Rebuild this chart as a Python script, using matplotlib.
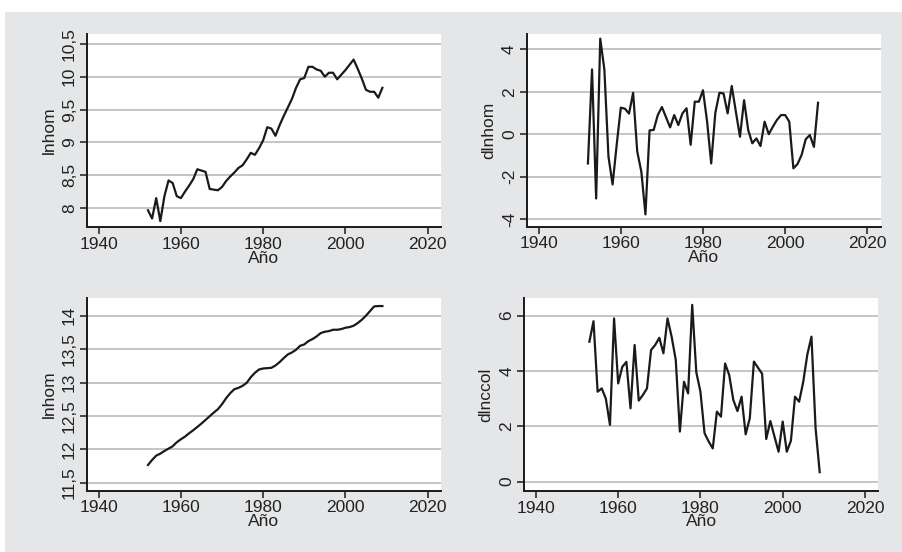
import matplotlib
matplotlib.use("Agg")
import matplotlib.pyplot as plt
from matplotlib.patches import Rectangle

plt.rcParams['font.family'] = ['Liberation Sans Narrow', 'Liberation Sans', 'DejaVu Sans']

# series 1952-2009
years_a = list(range(1952, 2010))
lnhom = [7.965, 7.84, 8.15, 7.80, 8.18, 8.42, 8.38, 8.18, 8.15, 8.25,
         8.34, 8.44, 8.59, 8.57, 8.55, 8.29, 8.28, 8.27, 8.32, 8.41,
         8.48, 8.54, 8.61, 8.65, 8.74, 8.84, 8.81, 8.91, 9.03, 9.23,
         9.21, 9.10, 9.26, 9.40, 9.53, 9.66, 9.83, 9.96, 9.98, 10.15,
         10.15, 10.11, 10.09, 10.00, 10.06, 10.06, 9.96, 10.03, 10.10, 10.18,
         10.26, 10.12, 9.97, 9.80, 9.77, 9.77, 9.68, 9.83]
lnhom2 = [11.765, 11.84, 11.905, 11.935, 11.975, 12.01, 12.045, 12.105, 12.15, 12.19,
          12.24, 12.285, 12.335, 12.385, 12.44, 12.495, 12.55, 12.60, 12.675, 12.765,
          12.84, 12.90, 12.92, 12.95, 12.995, 13.08, 13.145, 13.195, 13.21, 13.215,
          13.22, 13.255, 13.305, 13.365, 13.42, 13.45, 13.49, 13.55, 13.57, 13.62,
          13.65, 13.69, 13.74, 13.76, 13.77, 13.79, 13.79, 13.80, 13.82, 13.83,
          13.85, 13.89, 13.94, 14.00, 14.07, 14.14, 14.145, 14.145]

# differenced series
years_b = list(range(1952, 2009))
dlnhom = [-1.38, 3.05, -3.03, 4.5, 3.05, -1.06, -2.37, -0.5, 1.25, 1.2,
          0.97, 1.95, -0.82, -1.77, -3.78, 0.18, 0.2, 0.9, 1.28, 0.8,
          0.32, 0.9, 0.43, 0.98, 1.22, -0.5, 1.53, 1.53, 2.07, 0.6,
          -1.38, 1.0, 1.95, 1.92, 0.98, 2.27, 1.06, -0.12, 1.6, 0.2,
          -0.43, -0.2, -0.56, 0.59, 0.0, 0.35, 0.67, 0.9, 0.9, 0.59,
          -1.61, -1.41, -0.98, -0.24, -0.04, -0.6, 1.48]

years_c = list(range(1953, 2010))
dlnccol = [5.06, 5.8, 3.25, 3.37, 3.0, 2.05, 5.9, 3.55, 4.15, 4.33,
           2.65, 4.94, 2.93, 3.13, 3.37, 4.76, 4.94, 5.2, 4.64, 5.9,
           5.24, 4.4, 1.81, 3.61, 3.19, 6.39, 3.95, 3.25, 1.75, 1.45,
           1.2, 2.53, 2.35, 4.27, 3.85, 2.95, 2.55, 3.07, 1.71, 2.29,
           4.34, 4.12, 3.9, 1.54, 2.19, 1.63, 1.08, 2.17, 1.08, 1.48,
           3.07, 2.89, 3.61, 4.6, 5.24, 1.93, 0.34]

xticks = [1940, 1960, 1980, 2000, 2020]

W, H = 903, 552
fig = plt.figure(figsize=(W / 100, H / 100), dpi=100, facecolor='white')
# grey backdrop behind all four panels
fig.patches.append(Rectangle((5 / W, 0), 1, 1 - 12 / H, transform=fig.transFigure,
                             facecolor='#e5e6e8', edgecolor='none', zorder=-5))


def panel(box, x, y, ylabel, yticks, ylabels, ylim):
    l, t, r, b = box
    ax = fig.add_axes([l / W, 1 - b / H, (r - l) / W, (b - t) / H])
    ax.set_facecolor('white')
    for yt in yticks:
        ax.axhline(yt, color='#b5b5b5', lw=1.1, zorder=1)
    ax.plot(x, y, color='#1a1a1a', lw=1.6, zorder=3)
    ax.set_xlim(1937.1, 2023.25)
    ax.set_ylim(*ylim)
    ax.set_xticks(xticks)
    ax.set_yticks(yticks)
    ax.set_yticklabels(ylabels, rotation=90, va='center')
    ax.tick_params(labelsize=12.5, length=5, width=1.1, color='#1a1a1a',
                   labelcolor='#222222', pad=2)
    for s in ['top', 'right']:
        ax.spines[s].set_visible(False)
    for s in ['left', 'bottom']:
        ax.spines[s].set_linewidth(1.4)
        ax.spines[s].set_color('#1a1a1a')
    ax.set_xlabel('Año', fontsize=12.5, color='#222222', labelpad=-1)
    ax.set_ylabel(ylabel, fontsize=12.5, color='#222222', labelpad=4)
    return ax


panel((86.7, 34, 441, 227.3), years_a, lnhom, 'lnhom',
      [8, 8.5, 9, 9.5, 10, 10.5], ['8', '8,5', '9', '9,5', '10', '10,5'], (7.706, 10.65))
panel((526.7, 34, 880.7, 226.7), years_b, dlnhom, 'dlnhom',
      [-4, -2, 0, 2, 4], ['-4', '-2', '0', '2', '4'], (-4.36, 4.72))
panel((86.7, 297.7, 441, 490.7), years_a, lnhom2, 'lnhom',
      [11.5, 12, 12.5, 13, 13.5, 14], ['11,5', '12', '12,5', '13', '13,5', '14'], (11.38, 14.27))
panel((524, 297.7, 878.3, 491), years_c, dlnccol, 'dlnccol',
      [0, 2, 4, 6], ['0', '2', '4', '6'], (-0.34, 6.65))

fig.savefig('out.png', dpi=100, facecolor=fig.get_facecolor())
